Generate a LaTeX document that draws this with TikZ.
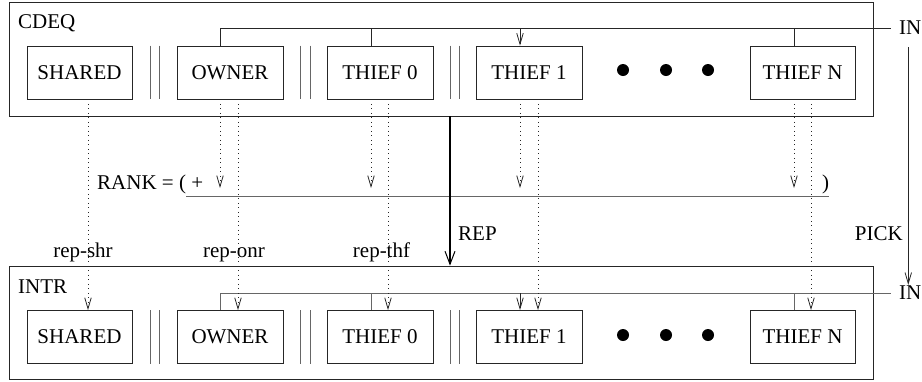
\documentclass[tikz,border=0pt]{standalone}
\usepackage{fontspec}
\setmainfont{Liberation Serif}
\usetikzlibrary{arrows.meta,calc}
\begin{document}
\begin{tikzpicture}[x=1pt,y=-1pt,
  font=\fontsize{21}{24}\selectfont,
  ln/.style={draw=black!85, line width=0.8pt},
  grayln/.style={draw=black!60, line width=0.9pt},
  outerbox/.style={ln, minimum width=864pt, inner sep=0pt},
  box/.style={ln, minimum width=106pt, minimum height=53pt, inner sep=0pt},
  txt/.style={inner sep=0pt},
  vtip/.style={-{Straight Barb[length=11pt,width=6.5pt]}},
  dots/.style={ln, dash pattern=on 0.9pt off 3.6pt},
  dotc/.style={fill=black, circle, inner sep=0pt, minimum size=12pt}]
\useasboundingbox (0,0) rectangle (922,381);

% outer boxes
\node[outerbox, minimum height=114pt] (cdeq) at (441,59) {};
\node[outerbox, minimum height=113pt] (intr) at (441,322.5) {};
\node[txt, anchor=west] (cdeqlbl) at (18,23.5) {CDEQ};
\node[txt, anchor=west] (intrlbl) at (18,286.5) {INTR};

% top row
\node[box, minimum width=105pt] (sh1) at (79.5,72.5) {SHARED};
\node[box] (ow1) at (230,72.5) {OWNER};
\node[box] (ta1) at (380,72.5) {THIEF 0};
\node[box] (tb1) at (529,72.5) {THIEF 1};
\node[box, minimum width=105pt] (tn1) at (802.5,72.5) {THIEF N};
% bottom row
\node[box, minimum width=105pt] (sh2) at (79.5,337) {SHARED};
\node[box] (ow2) at (230,337) {OWNER};
\node[box] (ta2) at (380,337) {THIEF 0};
\node[box] (tb2) at (529,337) {THIEF 1};
\node[box, minimum width=105pt] (tn2) at (802.5,337) {THIEF N};

% port coordinates (L = control/rank port, R = replication port)
\foreach \b/\l/\r in {ow/-10/8, ta/-9/8, tb/-9/9, tn/-8.5/8.5, sh/0/8.5}{
  \foreach \k in {1,2}{
    \coordinate (\b\k nL) at ($(\b\k.north)+(\l,0)$);
    \coordinate (\b\k nR) at ($(\b\k.north)+(\r,0)$);
    \coordinate (\b\k sL) at ($(\b\k.south)+(\l,0)$);
    \coordinate (\b\k sR) at ($(\b\k.south)+(\r,0)$);
  }
}

% double bars
\foreach \yy in {1,2}{
  \foreach \xx in {150,159,300,310,450,459}{
    \draw[grayln] (\xx,0 |- sh\yy.north) -- (\xx,0 |- sh\yy.south);
  }
}

% ellipsis dots
\foreach \xx in {623,666,708}{
  \node[dotc] at (\xx,70) {};
  \node[dotc] at (\xx,335) {};
}

% IN lines
\node[txt, anchor=west] (in1) at (899,28) {IN};
\node[txt, anchor=west] (in2) at (899,293) {IN};
\coordinate (in1e) at (891,28);
\coordinate (in2e) at (891,293);
\draw[ln] (ow1nL) |- (in1e);
\draw[ln] (ta1nL) -- (ta1nL |- in1e);
\draw[ln, vtip] (tb1nL |- in1e) -- (tb1nL);
\draw[ln] (tn1nL) -- (tn1nL |- in1e);

\draw[grayln] (ow2nL) |- (in2e);
\draw[grayln] (ta2nL) -- (ta2nL |- in2e);
\draw[ln, vtip] (tb2nL |- in2e) -- (tb2nL);
\draw[grayln] (tn2nL) -- (tn2nL |- in2e);

% PICK
\draw[ln, vtip, shorten <=12pt, shorten >=1pt] ([xshift=-2pt]in1.south) -- ([xshift=-2pt]in2.north);
\node[txt, anchor=east] (pick) at (903,233.5) {PICK};

% RANK line
\coordinate (rk1) at (186,196);
\coordinate (rk2) at (829,196);
\coordinate (rktip) at (0,188);
\draw[grayln] (rk1) -- (rk2);
\node[txt, anchor=base west] (rank) at (97,189) {RANK = ( +};
\node[txt, anchor=base west] (rparen) at (822,189) {)};

% dotted lines to RANK
\draw[dots, vtip] (ow1sL) -- (ow1sL |- rktip);
\draw[dots, vtip] (ta1sL) -- (ta1sL |- rktip);
\draw[dots, vtip] (tb1sL) -- (tb1sL |- rktip);
\draw[dots, vtip] (tn1sL) -- (tn1sL |- rktip);

% dotted replication lines
\draw[dots, vtip] (sh1sR) -- (sh2nR);
\draw[dots, vtip] (ow1sR) -- (ow2nR);
\draw[dots, vtip] (ta1sR) -- (ta2nR);
\draw[dots, vtip] (tb1sR) -- (tb2nR);
\draw[dots, vtip] (tn1sR) -- (tn2nR);

\node[txt, anchor=base] (repshr) at (83,257) {rep-shr};
\node[txt, anchor=base] (reponr) at (234,257) {rep-onr};
\node[txt, anchor=base] (repthf) at (381.5,257) {rep-thf};

% REP
\draw[line width=2.6pt, -{Straight Barb[length=13pt,width=10pt,line width=1pt]}] (cdeq.south -| 450,0) -- (intr.north -| 450,0);
\node[txt, anchor=west] (rep) at (458,233.5) {REP};
\end{tikzpicture}
\end{document}
